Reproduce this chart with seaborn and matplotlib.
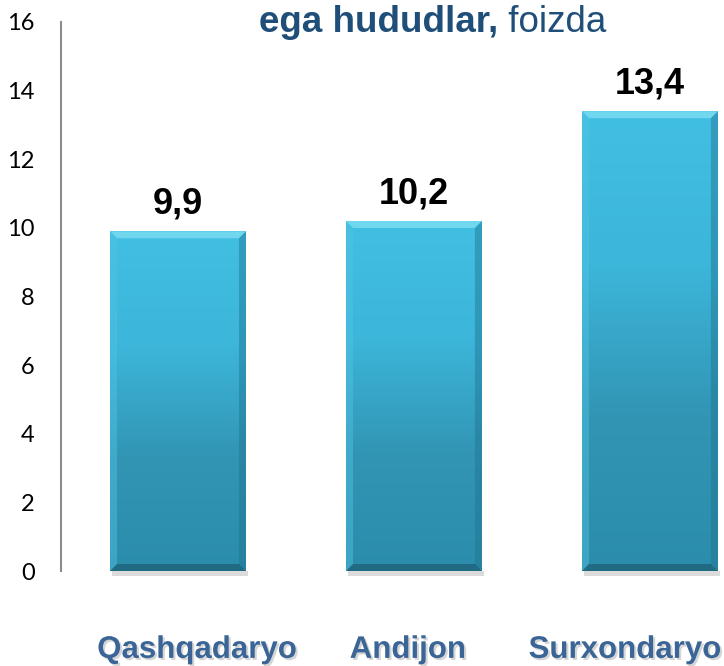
import numpy as np
import matplotlib
matplotlib.use("Agg")
import matplotlib.pyplot as plt
import matplotlib.patheffects as pe
from matplotlib.colors import LinearSegmentedColormap
from matplotlib.patches import Polygon, Rectangle
from matplotlib.transforms import ScaledTranslation
import seaborn as sns

# data
regions = ["Qashqadaryo", "Andijon", "Surxondaryo"]
values = [9.9, 10.2, 13.4]
value_labels = ["9,9", "10,2", "13,4"]
y_ticks = [0, 2, 4, 6, 8, 10, 12, 14, 16]
title_bold = "ega hududlar,"
title_rest = " foizda"

sns.set_theme(style="white")
plt.rcParams["font.family"] = ["Liberation Sans", "DejaVu Sans"]

fig = plt.figure(figsize=(7.24, 6.66), dpi=100)
ax = fig.add_axes([61 / 724, 95 / 666, 663 / 724, 549 / 666])

sns.barplot(x=regions, y=values, width=0.576, saturation=1, color="#3bb4d8", ax=ax)
ax.set_xlim(-0.496, 2.314)
ax.set_ylim(0, 16)

# --- bevelled gradient bars ---
cmap = LinearSegmentedColormap.from_list("bar", ["#2b8dab", "#3295b4", "#3cb6da", "#41bfe3"])
grad = np.linspace(0, 1, 256).reshape(-1, 1)
bb = ax.get_window_extent()
ux = (ax.get_xlim()[1] - ax.get_xlim()[0]) / bb.width   # data units per pixel
uy = (ax.get_ylim()[1] - ax.get_ylim()[0]) / bb.height
bx, by = 7 * ux, 7 * uy

for p in list(ax.patches):
    x0, w, h = p.get_x(), p.get_width(), p.get_height()
    x1 = x0 + w
    im = ax.imshow(grad, extent=(x0, x1, 0, h), origin="lower", cmap=cmap,
                   aspect="auto", zorder=2)
    im.set_clip_path(p)
    p.set_facecolor("none")
    p.set_edgecolor("none")
    bevels = [
        ([(x0, h), (x1, h), (x1 - bx, h - by), (x0 + bx, h - by)], "#7adcf2", 0.85),
        ([(x0, 0), (x0, h), (x0 + bx, h - by), (x0 + bx, by)], "#52c4e4", 0.45),
        ([(x1, 0), (x1, h), (x1 - bx, h - by), (x1 - bx, by)], "#1f7390", 0.45),
        ([(x0, 0), (x1, 0), (x1 - bx, by), (x0 + bx, by)], "#1b5870", 0.65),
    ]
    for pts, col, a in bevels:
        ax.add_patch(Polygon(pts, closed=True, facecolor=col, edgecolor="none",
                             alpha=a, zorder=3))
    ax.add_patch(Rectangle((x0 + 2 * ux, -5 * uy), w, 5 * uy, facecolor="#9a9a9a",
                           edgecolor="none", alpha=0.35, zorder=1, clip_on=False))

ax.set_xlim(-0.496, 2.314)
ax.set_ylim(0, 16)

# value labels
ax.bar_label(ax.containers[0], labels=value_labels, padding=7, fontsize=26,
             fontweight="bold", color="black")

# axes styling
sns.despine(ax=ax, bottom=True)
ax.spines["left"].set_color("#8c8c8c")
ax.spines["left"].set_linewidth(1.5)
ax.set_yticks(y_ticks)
ax.tick_params(axis="y", length=0, pad=19, labelsize=17, labelcolor="black")
for lbl in ax.get_yticklabels():
    lbl.set_fontfamily(["Lato", "DejaVu Sans"])
ax.set_xlabel("")
ax.set_ylabel("")
ax.tick_params(axis="x", length=0, pad=46)
label_shift_px = [19, -6, -25]
for lbl, dx in zip(ax.get_xticklabels(), label_shift_px):
    lbl.set_fontsize(22.5)
    lbl.set_fontweight("bold")
    lbl.set_color("#3a6596")
    lbl.set_transform(lbl.get_transform() + ScaledTranslation(dx / 100, 0, fig.dpi_scale_trans))
    lbl.set_path_effects([pe.withSimplePatchShadow(offset=(1.5, -1.5), shadow_rgbFace="#888888", alpha=0.35)])

# title (cropped in the reference)
t1 = fig.text(259 / 724, (666 - 32) / 666, title_bold, fontsize=26.5, fontweight="bold",
              color="#1f4e79", ha="left", va="baseline")
ax.annotate(title_rest, xy=(1, 0), xycoords=t1, ha="left", va="bottom",
            fontsize=26.5, color="#1f4e79", annotation_clip=False)

fig.savefig("out.png", dpi=100)
